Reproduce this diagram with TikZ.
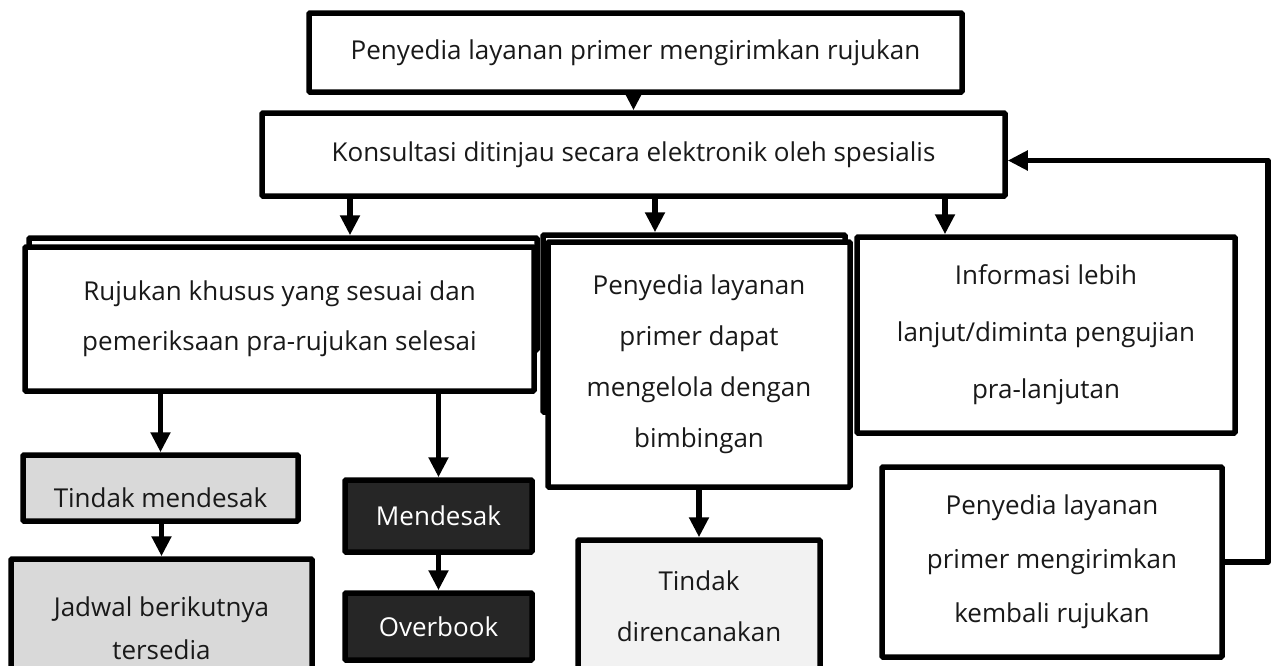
\documentclass[tikz,border=0pt]{standalone}
\usepackage{fontspec}
\setmainfont{Open Sans}
\usetikzlibrary{arrows.meta}
\definecolor{lgray}{HTML}{D9D9D9}
\definecolor{vlgray}{HTML}{F2F2F2}
\definecolor{dgray}{HTML}{262626}
\begin{document}
\begin{tikzpicture}[x=1pt,y=-1pt,
  box/.style={draw=black, line width=5.5pt, fill=white, inner sep=0pt, align=center,
    font=\fontsize{26}{52}\selectfont, text=black!90, rounded corners=1pt},
  back/.style={draw=black, line width=5.5pt, fill=white, inner sep=0pt, rounded corners=1pt},
  darkbox/.style={box, fill=dgray, text=white},
  arr/.style={line width=5.5pt, -{Triangle[length=20pt,width=19pt]}},
]
\clip (0,0) rectangle (1273,665);
\fill[white] (0,0) rectangle (1273,665);

% top row
\node[box, minimum width=653pt, minimum height=79pt] (top) at (635.5,52.5) {Penyedia layanan primer mengirimkan rujukan};
\node[box, minimum width=743pt, minimum height=83pt] (konsul) at (633.5,154.5) {Konsultasi ditinjau secara elektronik oleh spesialis};

% row 3
\node[back, minimum width=508pt, minimum height=112pt] (aback) at (283,294) {};
\node[box, minimum width=509pt, minimum height=144pt, font=\fontsize{26}{50}\selectfont] (a) at (279.5,319)
  {Rujukan khusus yang sesuai dan\\pemeriksaan pra-rujukan selesai};
\node[back, minimum width=302pt, minimum height=177pt] (bback) at (694,323.5) {};
\node[box, minimum width=302pt, minimum height=245pt, font=\fontsize{26}{51}\selectfont] (b) at (699,364.5)
  {Penyedia layanan\\primer dapat\\mengelola dengan\\bimbingan};
\node[box, minimum width=378pt, minimum height=196pt, font=\fontsize{26}{57}\selectfont] (c) at (1046,335)
  {Informasi lebih\\lanjut/diminta pengujian\\pra-lanjutan};

% row 4
\node[box, fill=lgray, minimum width=275pt, minimum height=66pt, text height=38pt, text depth=0pt] (tm) at (160.5,488) {Tindak mendesak};
\node[box, fill=lgray, minimum width=301pt, minimum height=139pt, font=\fontsize{26}{43}\selectfont] (jad) at (161.5,628.5)
  {Jadwal berikutnya\\tersedia};
\node[darkbox, minimum width=187pt, minimum height=72pt] (mend) at (438.5,516) {Mendesak};
\node[darkbox, minimum width=187pt, minimum height=67pt] (over) at (438.5,626.5) {Overbook};
\node[box, fill=vlgray, minimum width=242pt, minimum height=132pt, font=\fontsize{26}{51}\selectfont] (td) at (699,606)
  {Tindak\\direncanakan};
\node[box, minimum width=340pt, minimum height=190pt, font=\fontsize{26}{54}\selectfont] (pk) at (1052,562)
  {Penyedia layanan\\primer mengirimkan\\kembali rujukan};

\coordinate (rx) at (1268,0);

% connectors
\draw[arr] (top.south -| konsul.north) -- (konsul.north);
\draw[arr] (konsul.south -| 350,0) -- (aback.north -| 350,0);
\draw[arr] (konsul.south -| 655,0) -- (bback.north -| 655,0);
\draw[arr] (konsul.south -| 945,0) -- (c.north -| 945,0);
\draw[arr] (a.south -| tm.north) -- (tm.north);
\draw[arr] (a.south -| mend.north) -- (mend.north);
\draw[arr] (tm.south -| jad.north) -- (jad.north);
\draw[arr] (mend.south) -- (over.north);
\draw[arr] (b.south -| td.north) -- (td.north);
\draw[arr, line join=round] (pk.east) -- (pk.east -| rx) |- ([yshift=-6pt]konsul.east);
\end{tikzpicture}
\end{document}
